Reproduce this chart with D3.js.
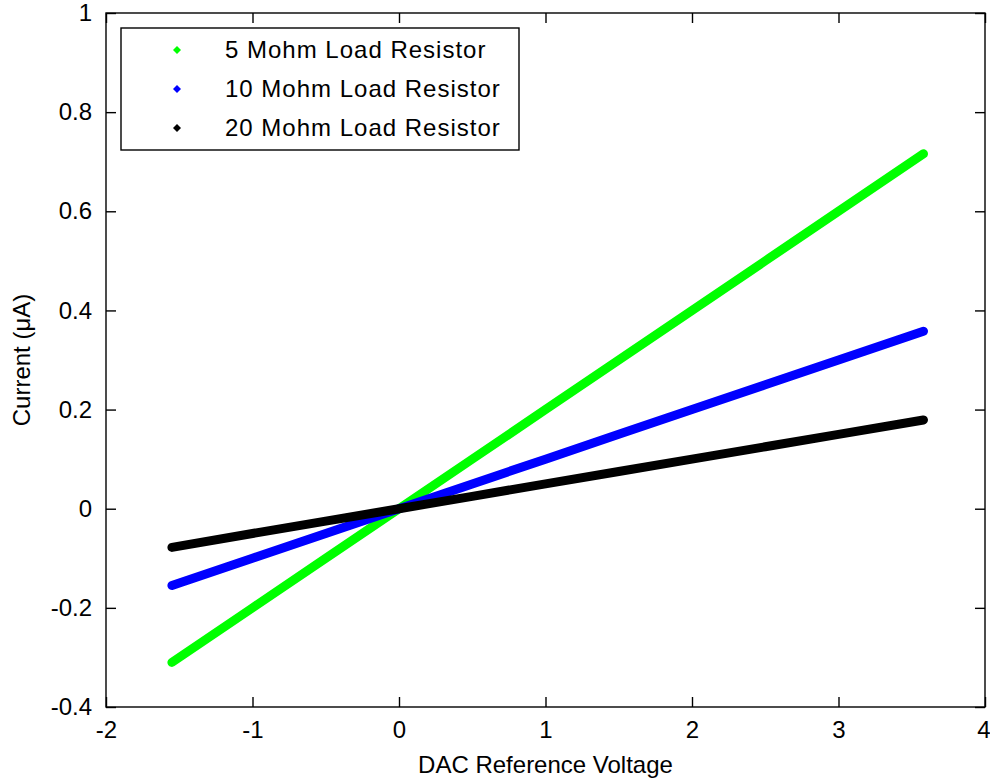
<!DOCTYPE html>
<html>
<head>
<meta charset="utf-8">
<script src="https://cdn.jsdelivr.net/npm/d3@7"></script>
<style>
  body { margin: 0; background: #fff; }
  svg text { font-family: "Liberation Sans", Arial, sans-serif; fill: #000; }
</style>
</head>
<body>
<svg id="chart"></svg>
<script>
// DAC sweep voltages (V) and measured current (uA) for each load
const voltage = [-1.55, -1, -0.5, 0, 0.5, 1, 1.5, 2, 2.5, 3, 3.58];
const current5 = [-0.31, -0.2, -0.1, 0, 0.1, 0.2, 0.3, 0.4, 0.5, 0.6, 0.716];
const current10 = [-0.155, -0.1, -0.05, 0, 0.05, 0.1, 0.15, 0.2, 0.25, 0.3, 0.358];
const current20 = [-0.078, -0.05, -0.025, 0, 0.025, 0.05, 0.075, 0.1, 0.125, 0.15, 0.179];

const seriesNames = ["5 Mohm Load Resistor", "10 Mohm Load Resistor", "20 Mohm Load Resistor"];
const seriesColors = ["#00ff00", "#0000ff", "#000000"];
const seriesValues = [current5, current10, current20];

const xTicks = [-2, -1, 0, 1, 2, 3, 4];
const yTicks = [-0.4, -0.2, 0, 0.2, 0.4, 0.6, 0.8, 1];

const width = 990, height = 784;
const margin = {left: 106, right: 5, top: 13, bottom: 77};
const fontSize = 24;

const svg = d3.select('#chart')
  .attr('width', width)
  .attr('height', height);

const x = d3.scaleLinear().domain([-2, 4]).range([margin.left, width - margin.right]);
const y = d3.scaleLinear().domain([-0.4, 1]).range([height - margin.bottom, margin.top]);

const fmt = d => String(d);

// data lines, drawn as thick bands of markers
const line = d3.line()
  .x((d, i) => x(voltage[i]))
  .y(d => y(d));

svg.selectAll('path.series')
  .data(seriesValues)
  .enter()
  .append('path')
    .attr('class', 'series')
    .attr('d', d => line(d))
    .attr('fill', 'none')
    .attr('stroke', (d, i) => seriesColors[i])
    .attr('stroke-width', 9)
    .attr('stroke-linecap', 'round')
    .attr('stroke-linejoin', 'round');

// axes box with inward ticks on all four sides
const tickLen = 10;
const axisStyle = g => {
  g.select('.domain').remove();
  g.selectAll('.tick line').attr('stroke', '#000').attr('stroke-width', 1.4);
  g.selectAll('.tick text')
    .attr('font-size', fontSize)
    .attr('font-family', '"Liberation Sans", Arial, sans-serif')
    .attr('fill', '#000');
};

const xAxis = svg.append('g')
  .attr('transform', `translate(0,${y(-0.4)})`)
  .call(d3.axisBottom(x).tickValues(xTicks).tickFormat(fmt).tickSizeInner(-tickLen).tickSizeOuter(0).tickPadding(14))
  .call(axisStyle);

// last label sits against the page edge
xAxis.selectAll('.tick text')
  .filter(d => d === 4)
  .attr('text-anchor', 'end')
  .attr('x', 5);

svg.append('g')
  .attr('transform', `translate(0,${y(1)})`)
  .call(d3.axisTop(x).tickValues(xTicks).tickFormat('').tickSizeInner(-tickLen).tickSizeOuter(0))
  .call(axisStyle);

svg.append('g')
  .attr('transform', `translate(${x(-2)},0)`)
  .call(d3.axisLeft(y).tickValues(yTicks).tickFormat(fmt).tickSizeInner(-tickLen).tickSizeOuter(0).tickPadding(14))
  .call(axisStyle);

svg.append('g')
  .attr('transform', `translate(${x(4)},0)`)
  .call(d3.axisRight(y).tickValues(yTicks).tickFormat('').tickSizeInner(-tickLen).tickSizeOuter(0))
  .call(axisStyle);

svg.append('rect')
  .attr('x', x(-2)).attr('y', y(1))
  .attr('width', x(4) - x(-2)).attr('height', y(-0.4) - y(1))
  .attr('fill', 'none').attr('stroke', '#000').attr('stroke-width', 1.4);

// axis titles
svg.append('text')
  .attr('x', (x(-2) + x(4)) / 2)
  .attr('y', 773)
  .attr('text-anchor', 'middle')
  .attr('font-size', fontSize)
  .text('DAC Reference Voltage');

svg.append('text')
  .attr('transform', `translate(30,${(y(-0.4) + y(1)) / 2}) rotate(-90)`)
  .attr('text-anchor', 'middle')
  .attr('font-size', fontSize)
  .text('Current (\u03BCA)');

// legend
const legend = svg.append('g').attr('transform', 'translate(121,28)');
legend.append('rect')
  .attr('width', 398).attr('height', 122)
  .attr('fill', '#fff').attr('stroke', '#000').attr('stroke-width', 1.4);

const rows = legend.selectAll('g.row')
  .data(seriesNames)
  .enter()
  .append('g')
    .attr('class', 'row')
    .attr('transform', (d, i) => `translate(0,${22 + i * 39})`);

rows.append('path')
  .attr('d', 'M0,-4L4,0L0,4L-4,0Z')
  .attr('transform', 'translate(56,0)')
  .attr('fill', (d, i) => seriesColors[i]);

rows.append('text')
  .attr('x', 104)
  .attr('dy', '0.35em')
  .attr('font-size', fontSize)
  .attr('letter-spacing', 1)
  .text(d => d);
</script>
</body>
</html>
